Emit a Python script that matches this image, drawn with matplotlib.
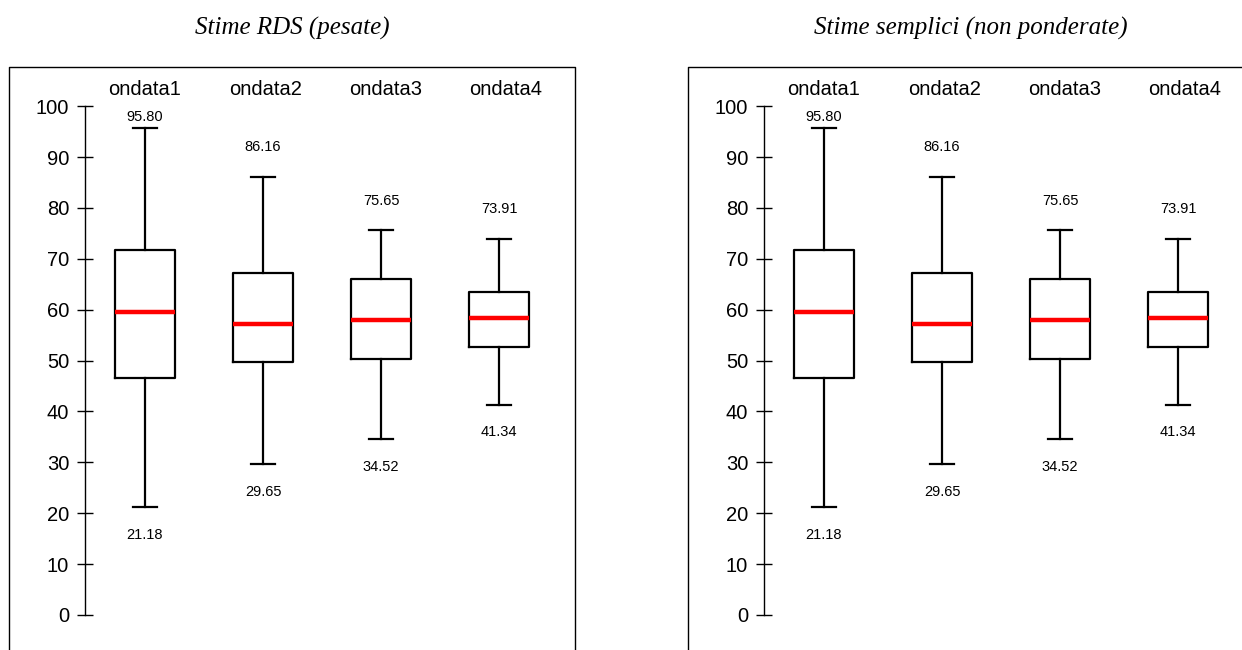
import matplotlib
matplotlib.use("Agg")
import matplotlib.pyplot as plt

# data (both panels show the same numbers)
categories = ["ondata1", "ondata2", "ondata3", "ondata4"]
whislo = [21.18, 29.65, 34.52, 41.34]
q1 = [46.5, 49.7, 50.4, 52.7]
med = [59.5, 57.1, 58.0, 58.4]
q3 = [71.7, 67.3, 66.1, 63.4]
whishi = [95.80, 86.16, 75.65, 73.91]
titles = ["Stime RDS (pesate)", "Stime semplici (non ponderate)"]
yticks = [0, 10, 20, 30, 40, 50, 60, 70, 80, 90, 100]

W, H = 1242, 650


def draw_panel(fig, left_px, title):
    ax = fig.add_axes([left_px / W, 0.0, 566 / W, 1 - 67 / H])
    positions = list(range(1, len(categories) + 1))
    stats = []
    for i in range(len(categories)):
        stats.append({"whislo": whislo[i], "q1": q1[i], "med": med[i],
                      "q3": q3[i], "whishi": whishi[i], "fliers": []})
    ax.bxp(stats, positions=positions, widths=0.51, capwidths=0.2,
           showfliers=False,
           boxprops=dict(color="black", linewidth=1.6),
           whiskerprops=dict(color="black", linewidth=1.6),
           capprops=dict(color="black", linewidth=1.6),
           medianprops=dict(color="red", linewidth=3.2))
    ax.set_xlim(-0.1525, 4.644)
    ax.set_ylim(-6.9, 107.7)

    # y axis drawn as a spine inside the frame
    for s in ["top", "right", "bottom"]:
        ax.spines[s].set_visible(False)
    ax.spines["left"].set_position(("data", 0.492))
    ax.spines["left"].set_bounds(0, 100)
    ax.spines["left"].set_linewidth(1.0)
    ax.set_yticks(yticks)
    ax.set_yticklabels([str(t) for t in yticks], fontsize=14.5,
                       family="Liberation Sans")
    ax.tick_params(axis="y", direction="inout", length=11, width=1.0, pad=6)
    ax.set_xticks([])

    # outer frame (bottom is cut by the page)
    ax.plot([0, 0, 1, 1], [-0.1, 1, 1, -0.1], color="black", linewidth=1.0,
            transform=ax.transAxes, clip_on=False)

    for i, c in enumerate(categories):
        ax.text(positions[i] + 0.02 * i, 103.2, c, ha="center", va="center",
                fontsize=14.5, family="Liberation Sans")
        ax.text(positions[i], min(whishi[i] + 5.8, 97.8), "%.2f" % whishi[i],
                ha="center", va="center", fontsize=10.5, family="Liberation Sans")
        ax.text(positions[i], whislo[i] - 5.4, "%.2f" % whislo[i],
                ha="center", va="center", fontsize=10.5, family="Liberation Sans")

    fig.text((left_px + 283) / W, 1 - 28 / H, title, ha="center", va="center",
             fontsize=18, style="italic", family="Liberation Serif")


fig = plt.figure(figsize=(W / 100, H / 100), dpi=100)
draw_panel(fig, 9, titles[0])
draw_panel(fig, 688, titles[1])
fig.savefig("out.png", dpi=100)
